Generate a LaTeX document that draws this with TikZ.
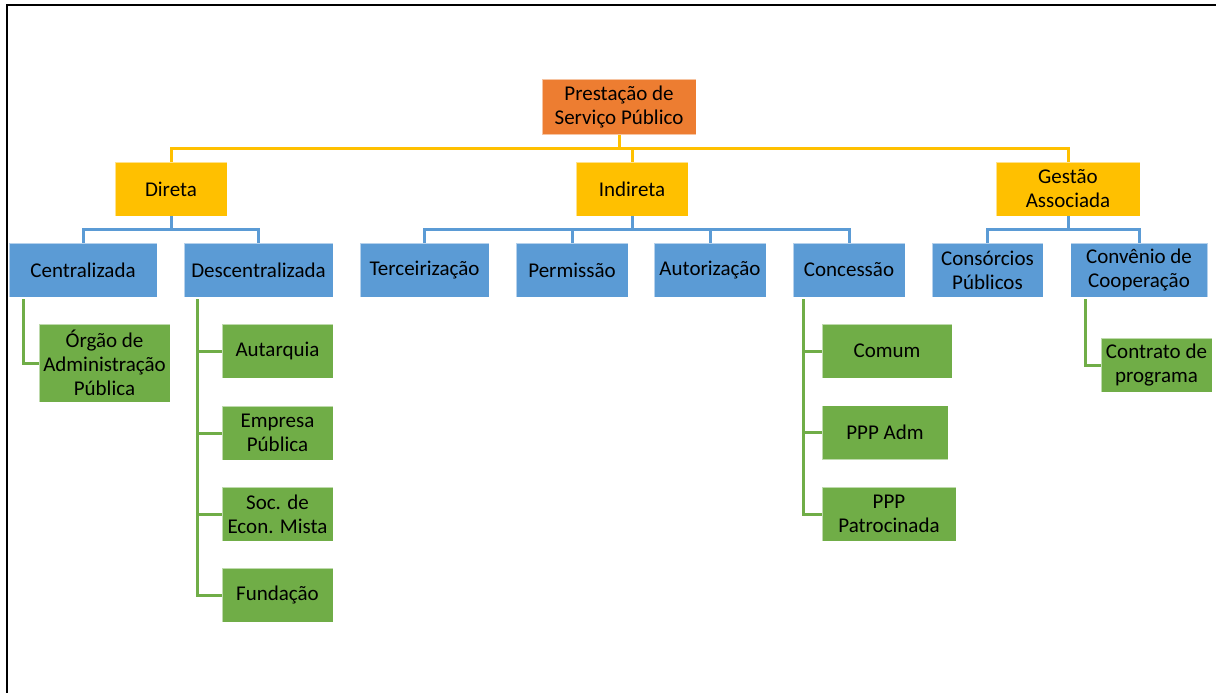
\documentclass[tikz,border=0pt]{standalone}
\usepackage{fontspec}
\setmainfont{Carlito}
\definecolor{cOrange}{HTML}{ED7D31}
\definecolor{cYellow}{HTML}{FFC000}
\definecolor{cBlue}{HTML}{5B9BD5}
\definecolor{cGreen}{HTML}{70AD47}
\tikzset{
  box/.style={rectangle, inner sep=0pt, align=center, text=black,
    draw=white, draw opacity=0.55, line width=0.8pt,
    font=\fontsize{21}{24}\selectfont},
  orbox/.style={box, fill=cOrange},
  yebox/.style={box, fill=cYellow},
  blbox/.style={box, fill=cBlue},
  grbox/.style={box, fill=cGreen},
  yline/.style={draw=cYellow, line width=3pt},
  bline/.style={draw=cBlue, line width=3pt},
  gline/.style={draw=cGreen, line width=3pt},
}
\begin{document}
\begin{tikzpicture}[x=1pt, y=-1pt]
\useasboundingbox (0,0) rectangle (1216,693);
% frame
\draw[line width=2.5pt, black] (7,700) -- (7,5) -- (1230,5);

% level 0
\node[orbox, minimum width=154, minimum height=55] (root) at (619,107) {Prestação de\\Serviço Público};
% level 1
\node[yebox, minimum width=112, minimum height=54] (dir) at (171,189) {Direta};
\node[yebox, minimum width=112, minimum height=54] (ind) at (632,189) {Indireta};
\node[yebox, minimum width=144, minimum height=54] (ges) at (1068,189) {Gestão\\Associada};
% level 2
\node[blbox, minimum width=148, minimum height=54] (cen) at (83,270) {Centralizada};
\node[blbox, minimum width=149, minimum height=54] (des) at (258.5,270) {Descentralizada};
\node[blbox, minimum width=129, minimum height=54] (ter) at (424.5,270) {Terceirização};
\node[blbox, minimum width=112, minimum height=54] (per) at (572,270) {Permissão};
\node[blbox, minimum width=112, minimum height=54] (aut) at (710,270) {Autorização};
\node[blbox, minimum width=112, minimum height=54] (con) at (849,270) {Concessão};
\node[blbox, minimum width=111, minimum height=54] (cps) at (987.5,270) {Consórcios\\Públicos};
\node[blbox, minimum width=137, minimum height=54] (cnv) at (1139,270) {Convênio de\\Cooperação};
% level 3
\node[grbox, minimum width=131, minimum height=78] (org) at (104.5,363) {Órgão de\\Administração\\Pública};
\node[grbox, minimum width=111, minimum height=54] (atq) at (277.5,351) {Autarquia};
\node[grbox, minimum width=111, minimum height=54] (emp) at (277.5,433) {Empresa\\Pública};
\node[grbox, minimum width=111, minimum height=54] (soc) at (277.5,514) {Soc. de\\Econ. Mista};
\node[grbox, minimum width=111, minimum height=54] (fun) at (277.5,595) {Fundação};
\node[grbox, minimum width=130, minimum height=54] (com) at (887,351) {Comum};
\node[grbox, minimum width=126, minimum height=54] (ppa) at (885,432.5) {PPP Adm};
\node[grbox, minimum width=134, minimum height=54] (ppp) at (889,514) {PPP\\Patrocinada};
\node[grbox, minimum width=111, minimum height=54] (ctr) at (1156.5,365) {Contrato de\\programa};

% bus coordinates
\coordinate (yb) at (0,148);
\coordinate (bb) at (0,229);

% yellow connectors
\draw[yline] (root.south) -- (root.south |- yb);
\draw[yline] (dir.north) -- (dir.north |- yb) -- (ges.north |- yb) -- (ges.north);
\draw[yline] (ind.north) -- (ind.north |- yb);

% blue connectors
\draw[bline] (dir.south) -- (dir.south |- bb);
\draw[bline] (cen.north) -- (cen.north |- bb) -- (des.north |- bb) -- (des.north);
\draw[bline] (ind.south) -- (ind.south |- bb);
\draw[bline] (ter.north) -- (ter.north |- bb) -- (con.north |- bb) -- (con.north);
\draw[bline] (per.north) -- (per.north |- bb);
\draw[bline] (aut.north) -- (aut.north |- bb);
\draw[bline] (ges.south) -- (ges.south |- bb);
\draw[bline] (cps.north) -- (cps.north |- bb) -- (cnv.north |- bb) -- (cnv.north);

% green connectors
\coordinate (tc) at (23,299);
\coordinate (td) at (197,299);
\coordinate (tk) at (803,299);
\coordinate (tv) at (1085,299);
\draw[gline] (tc) |- (org.west);
\draw[gline] (td) |- (fun.west);
\draw[gline] (td |- atq.west) -- (atq.west);
\draw[gline] (td |- emp.west) -- (emp.west);
\draw[gline] (td |- soc.west) -- (soc.west);
\draw[gline] (tk) |- (ppp.west);
\draw[gline] (tk |- com.west) -- (com.west);
\draw[gline] (tk |- ppa.west) -- (ppa.west);
\draw[gline] (tv) |- (ctr.west);
\end{tikzpicture}
\end{document}
